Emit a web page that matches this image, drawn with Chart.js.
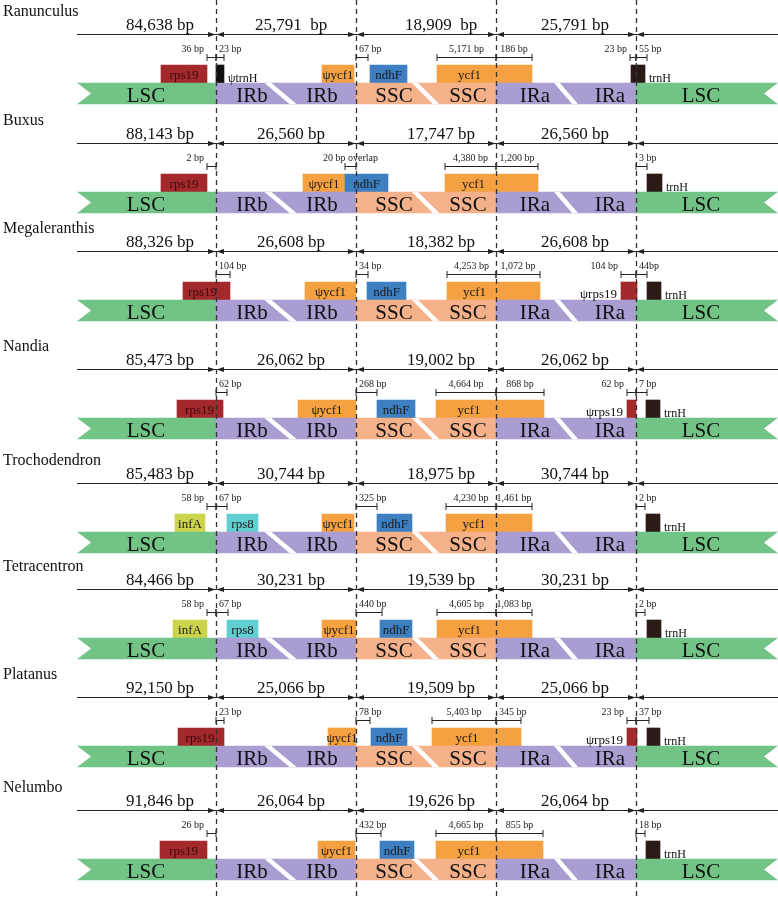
<!DOCTYPE html>
<html>
<head>
<meta charset="utf-8">
<script src="https://cdn.jsdelivr.net/npm/chart.js@4.4.0/dist/chart.umd.min.js"></script>
<style>
  html, body { margin: 0; padding: 0; background: #fff; }
  #wrap { width: 778px; height: 899px; }
</style>
</head>
<body>
<div id="wrap"><canvas id="irChart" width="778" height="899"></canvas></div>
<script>
// ---- data ----
const species = ['Ranunculus', 'Buxus', 'Megaleranthis', 'Nandia', 'Trochodendron', 'Tetracentron', 'Platanus', 'Nelumbo'];
const lscSizes = ['84,638 bp', '88,143 bp', '88,326 bp', '85,473 bp', '85,483 bp', '84,466 bp', '92,150 bp', '91,846 bp'];
const irbSizes = ['25,791  bp', '26,560 bp', '26,608 bp', '26,062 bp', '30,744 bp', '30,231 bp', '25,066 bp', '26,064 bp'];
const sscSizes = ['18,909  bp', '17,747 bp', '18,382 bp', '19,002 bp', '18,975 bp', '19,539 bp', '19,509 bp', '19,626 bp'];
const iraSizes = ['25,791 bp', '26,560 bp', '26,608 bp', '26,062 bp', '30,744 bp', '30,231 bp', '25,066 bp', '26,064 bp'];

// schematic map units (the figure is not drawn to scale)
const regionNames = ['LSC', 'IRb', 'SSC', 'IRa', 'LSC'];
const regionStarts = [77, 216, 356, 496, 636];
const regionEnds = [216, 356, 496, 636, 778];
const junctions = [216, 356, 496, 636];

// genes next to the junctions: [name, start, end]
const ranunculusGenes = [['rps19', 161, 207], ['ψtrnH', 216, 224], ['ψycf1', 322, 354], ['ndhF', 370, 407], ['ycf1', 437, 532], ['trnH', 631, 645]];
const buxusGenes = [['rps19', 161, 207], ['ψycf1', 303, 345], ['ndhF', 345, 388], ['ycf1', 445, 538], ['trnH', 647, 662]];
const megaleranthisGenes = [['rps19', 183, 230], ['ψycf1', 305, 356], ['ndhF', 367, 406], ['ycf1', 447, 540], ['ψrps19', 621, 637], ['trnH', 647, 661]];
const nandiaGenes = [['rps19', 177, 223], ['ψycf1', 298, 356], ['ndhF', 377, 415], ['ycf1', 436, 544], ['ψrps19', 627, 636], ['trnH', 646, 660]];
const trochodendronGenes = [['infA', 175, 205], ['rps8', 227, 258], ['ψycf1', 322, 354], ['ndhF', 377, 412], ['ycf1', 446, 532], ['trnH', 646, 660]];
const tetracentronGenes = [['infA', 173, 207], ['rps8', 227, 258], ['ψycf1', 322, 356], ['ndhF', 380, 412], ['ycf1', 437, 532], ['trnH', 647, 661]];
const platanusGenes = [['rps19', 178, 224], ['ψycf1', 328, 356], ['ndhF', 371, 407], ['ycf1', 432, 521], ['ψrps19', 627, 637], ['trnH', 647, 660]];
const nelumboGenes = [['rps19', 160, 207], ['ψycf1', 318, 355], ['ndhF', 380, 414], ['ycf1', 436, 543], ['trnH', 646, 660]];

// distances to the junctions: [from, to, label]
const ranunculusGaps = [[207, 216, '36 bp'], [216, 224, '23 bp'], [356, 368, '67 bp'], [437, 496, '5,171 bp'], [496, 532, '186 bp'], [630, 636, '23 bp'], [636, 647, '55 bp']];
const buxusGaps = [[207, 216, '2 bp'], [345, 356, '20 bp overlap'], [445, 496, '4,380 bp'], [496, 538, '1,200 bp'], [636, 647, '3 bp']];
const megaleranthisGaps = [[216, 230, '104 bp'], [356, 368, '34 bp'], [447, 496, '4,253 bp'], [496, 540, '1,072 bp'], [621, 636, '104 bp'], [636, 647, '44bp']];
const nandiaGaps = [[216, 227, '62 bp'], [356, 377, '268 bp'], [436, 496, '4,664 bp'], [496, 544, '868 bp'], [627, 636, '62 bp'], [636, 647, '7 bp']];
const trochodendronGaps = [[207, 216, '58 bp'], [216, 227, '67 bp'], [356, 377, '325 bp'], [446, 496, '4,230 bp'], [496, 532, '1,461 bp'], [636, 645, '2 bp']];
const tetracentronGaps = [[207, 216, '58 bp'], [216, 228, '67 bp'], [356, 382, '440 bp'], [437, 496, '4,605 bp'], [496, 532, '1,083 bp'], [636, 645, '2 bp']];
const platanusGaps = [[216, 224, '23 bp'], [356, 370, '78 bp'], [432, 496, '5,403 bp'], [496, 521, '345 bp'], [627, 636, '23 bp'], [636, 649, '37 bp']];
const nelumboGaps = [[207, 216, '26 bp'], [356, 381, '432 bp'], [436, 496, '4,665 bp'], [496, 543, '855 bp'], [636, 645, '18 bp']];

const geneSets = [ranunculusGenes, buxusGenes, megaleranthisGenes, nandiaGenes, trochodendronGenes, tetracentronGenes, platanusGenes, nelumboGenes];
const gapSets = [ranunculusGaps, buxusGaps, megaleranthisGaps, nandiaGaps, trochodendronGaps, tetracentronGaps, platanusGaps, nelumboGaps];

// ---- layout / style ----
const ROW_TOP = [83, 192, 300, 418, 532, 638, 746, 859]; // top of the region band in each row
const BAND_H = 21;
const BOX_H = 18;
const NOTCH = 14;
const SLASHES = [[268, 293], [415, 436], [557, 575]];
const SIZE_LABEL_X = [160, 291, 441, 575];
const BAND_LABELS = [['LSC', 146], ['IRb', 252], ['IRb', 322], ['SSC', 394], ['SSC', 468], ['IRa', 535], ['IRa', 610], ['LSC', 701]];
const SERIF = '"Liberation Serif", "Times New Roman", serif';

const regionColors = { LSC: '#72c386', IRb: '#aa9dd1', IRa: '#aa9dd1', SSC: '#f5b189' };
const geneColors = {
    'rps19': '#a3292d', 'ψrps19': '#a3292d', 'ψtrnH': '#111111', 'trnH': '#2b1b16',
    'ψycf1': '#f5a142', 'ycf1': '#f5a142', 'ndhF': '#3d7fc0', 'infA': '#cbd44c', 'rps8': '#5fcfd1'
};
const labelRight = ['trnH', 'ψtrnH'];
const labelLeft = ['ψrps19'];

// build bar data
const regionPoints = [];
const regionFills = [];
species.forEach((s, i) => {
    regionNames.forEach((r, k) => {
        regionPoints.push({ x: [regionStarts[k], regionEnds[k]], y: ROW_TOP[i] + BAND_H / 2 });
        regionFills.push(regionColors[r]);
    });
});

const genePoints = [];
const geneFills = [];
geneSets.forEach((genes, i) => {
    genes.forEach(([g, a, b]) => {
        genePoints.push({ x: [a, b], y: ROW_TOP[i] - BOX_H / 2 });
        geneFills.push(geneColors[g]);
    });
});

const irPlugin = {
    id: 'irLayout',
    afterDatasetsDraw(chart) {
        const ctx = chart.ctx;
        const xs = chart.scales.x;
        const ys = chart.scales.y;
        const px = v => xs.getPixelForValue(v);
        const py = v => ys.getPixelForValue(v);
        const lineStart = regionStarts[0];
        const lineEnd = regionEnds[regionEnds.length - 1];

        ctx.save();
        species.forEach((name, i) => {
            const t = ROW_TOP[i];
            const top = py(t);
            const bot = py(t + BAND_H);
            const mid = (top + bot) / 2;

            // fishtail ends of the LSC
            ctx.fillStyle = '#fff';
            ctx.beginPath();
            ctx.moveTo(px(lineStart) - 1, top - 1);
            ctx.lineTo(px(lineStart + NOTCH), mid);
            ctx.lineTo(px(lineStart) - 1, bot + 1);
            ctx.closePath();
            ctx.fill();
            ctx.beginPath();
            ctx.moveTo(px(lineEnd) + 1, top - 1);
            ctx.lineTo(px(lineEnd - NOTCH), mid);
            ctx.lineTo(px(lineEnd) + 1, bot + 1);
            ctx.closePath();
            ctx.fill();

            // white diagonal breaks
            ctx.save();
            ctx.beginPath();
            ctx.rect(px(lineStart), top, px(lineEnd) - px(lineStart), bot - top);
            ctx.clip();
            ctx.strokeStyle = '#fff';
            ctx.lineWidth = 4.5;
            SLASHES.forEach(([a, b]) => {
                const dx = (px(b) - px(a)) / (bot - top) * 3;
                ctx.beginPath();
                ctx.moveTo(px(a) - dx, top - 3);
                ctx.lineTo(px(b) + dx, bot + 3);
                ctx.stroke();
            });
            ctx.restore();

            // region names in the band
            ctx.fillStyle = '#111';
            ctx.font = '21px ' + SERIF;
            ctx.textAlign = 'center';
            ctx.textBaseline = 'alphabetic';
            BAND_LABELS.forEach(([lab, xv]) => ctx.fillText(lab, px(xv), py(t + 19)));

            // gene names
            geneSets[i].forEach(([g, a, b]) => {
                if (labelRight.includes(g)) {
                    ctx.font = '12px ' + SERIF;
                    ctx.textAlign = 'left';
                    ctx.fillStyle = '#111';
                    ctx.fillText(g, px(b) + 4, py(t - 1));
                } else if (labelLeft.includes(g)) {
                    ctx.font = '13px ' + SERIF;
                    ctx.textAlign = 'right';
                    ctx.fillStyle = '#111';
                    ctx.fillText(g, px(a) - 4, py(t - 2));
                } else {
                    // a box crossing a junction is labelled over its left part
                    const cut = junctions.find(j => j > a && j < b && j - a > b - j);
                    const cx = cut ? (px(a) + px(cut)) / 2 + 3 : (px(a) + px(b)) / 2;
                    ctx.font = '13px ' + SERIF;
                    ctx.textAlign = 'center';
                    ctx.fillStyle = g === 'rps19' ? '#3a0b0b' : '#1a1a1a';
                    ctx.fillText(g, cx, py(t - 4));
                }
            });

            // species name
            ctx.font = '16px ' + SERIF;
            ctx.textAlign = 'left';
            ctx.fillStyle = '#111';
            ctx.fillText(name, px(3), py(t - 67));

            // region sizes over the arrow line
            ctx.font = '17px ' + SERIF;
            ctx.textAlign = 'center';
            [lscSizes, irbSizes, sscSizes, iraSizes].forEach((arr, k) => {
                ctx.fillText(arr[i], px(SIZE_LABEL_X[k]), py(t - 53));
            });

            // arrow line with arrowheads at each junction
            const ly = Math.round(py(t - 49.5)) + 0.5;
            ctx.strokeStyle = '#222';
            ctx.lineWidth = 1;
            ctx.beginPath();
            ctx.moveTo(px(lineStart), ly);
            ctx.lineTo(px(lineEnd), ly);
            ctx.stroke();
            ctx.fillStyle = '#222';
            junctions.forEach(j => {
                const jx = px(j);
                ctx.beginPath();
                ctx.moveTo(jx - 0.5, ly);
                ctx.lineTo(jx - 8, ly - 2.5);
                ctx.lineTo(jx - 8, ly + 2.5);
                ctx.closePath();
                ctx.fill();
                ctx.beginPath();
                ctx.moveTo(jx + 0.5, ly);
                ctx.lineTo(jx + 8, ly - 2.5);
                ctx.lineTo(jx + 8, ly + 2.5);
                ctx.closePath();
                ctx.fill();
            });

            // distance brackets and labels
            const by = Math.round(py(t - 26)) + 0.5;
            ctx.font = '10px ' + SERIF;
            gapSets[i].forEach(([a, b, lab]) => {
                const xa = px(a);
                const xb = px(b);
                ctx.beginPath();
                ctx.moveTo(xa, by);
                ctx.lineTo(xb, by);
                ctx.moveTo(xa, by - 3.5);
                ctx.lineTo(xa, by + 3.5);
                ctx.moveTo(xb, by - 3.5);
                ctx.lineTo(xb, by + 3.5);
                ctx.stroke();
                const w = b - a;
                if (w >= 30 || lab.includes('overlap')) {
                    ctx.textAlign = 'center';
                    ctx.fillText(lab, (xa + xb) / 2, py(t - 31));
                } else if (junctions.includes(b)) {
                    ctx.textAlign = 'right';
                    ctx.fillText(lab, xa - 3, py(t - 31));
                } else {
                    ctx.textAlign = 'left';
                    ctx.fillText(lab, xa + 3, py(t - 31));
                }
            });
        });

        // dashed junction lines through all rows
        ctx.strokeStyle = '#333';
        ctx.lineWidth = 1.3;
        ctx.setLineDash([5, 4]);
        junctions.forEach(j => {
            const jx = Math.round(px(j)) + 0.5;
            ctx.beginPath();
            ctx.moveTo(jx, py(0));
            ctx.lineTo(jx, py(899));
            ctx.stroke();
        });
        ctx.restore();
    }
};

new Chart(document.getElementById('irChart'), {
    type: 'bar',
    data: {
        datasets: [
            {
                label: 'regions',
                data: regionPoints,
                backgroundColor: regionFills,
                barThickness: BAND_H,
                stack: 'row',
                borderWidth: 0
            },
            {
                label: 'genes',
                data: genePoints,
                backgroundColor: geneFills,
                barThickness: BOX_H,
                stack: 'row',
                borderWidth: 0
            }
        ]
    },
    options: {
        indexAxis: 'y',
        responsive: false,
        animation: false,
        devicePixelRatio: 1,
        events: [],
        layout: { padding: 0 },
        plugins: {
            legend: { display: false },
            tooltip: { enabled: false }
        },
        scales: {
            x: { type: 'linear', min: 0, max: 778, display: false, stacked: false },
            y: { type: 'linear', min: 0, max: 899, reverse: true, display: false, stacked: true, offset: false }
        }
    },
    plugins: [irPlugin]
});
</script>
</body>
</html>
